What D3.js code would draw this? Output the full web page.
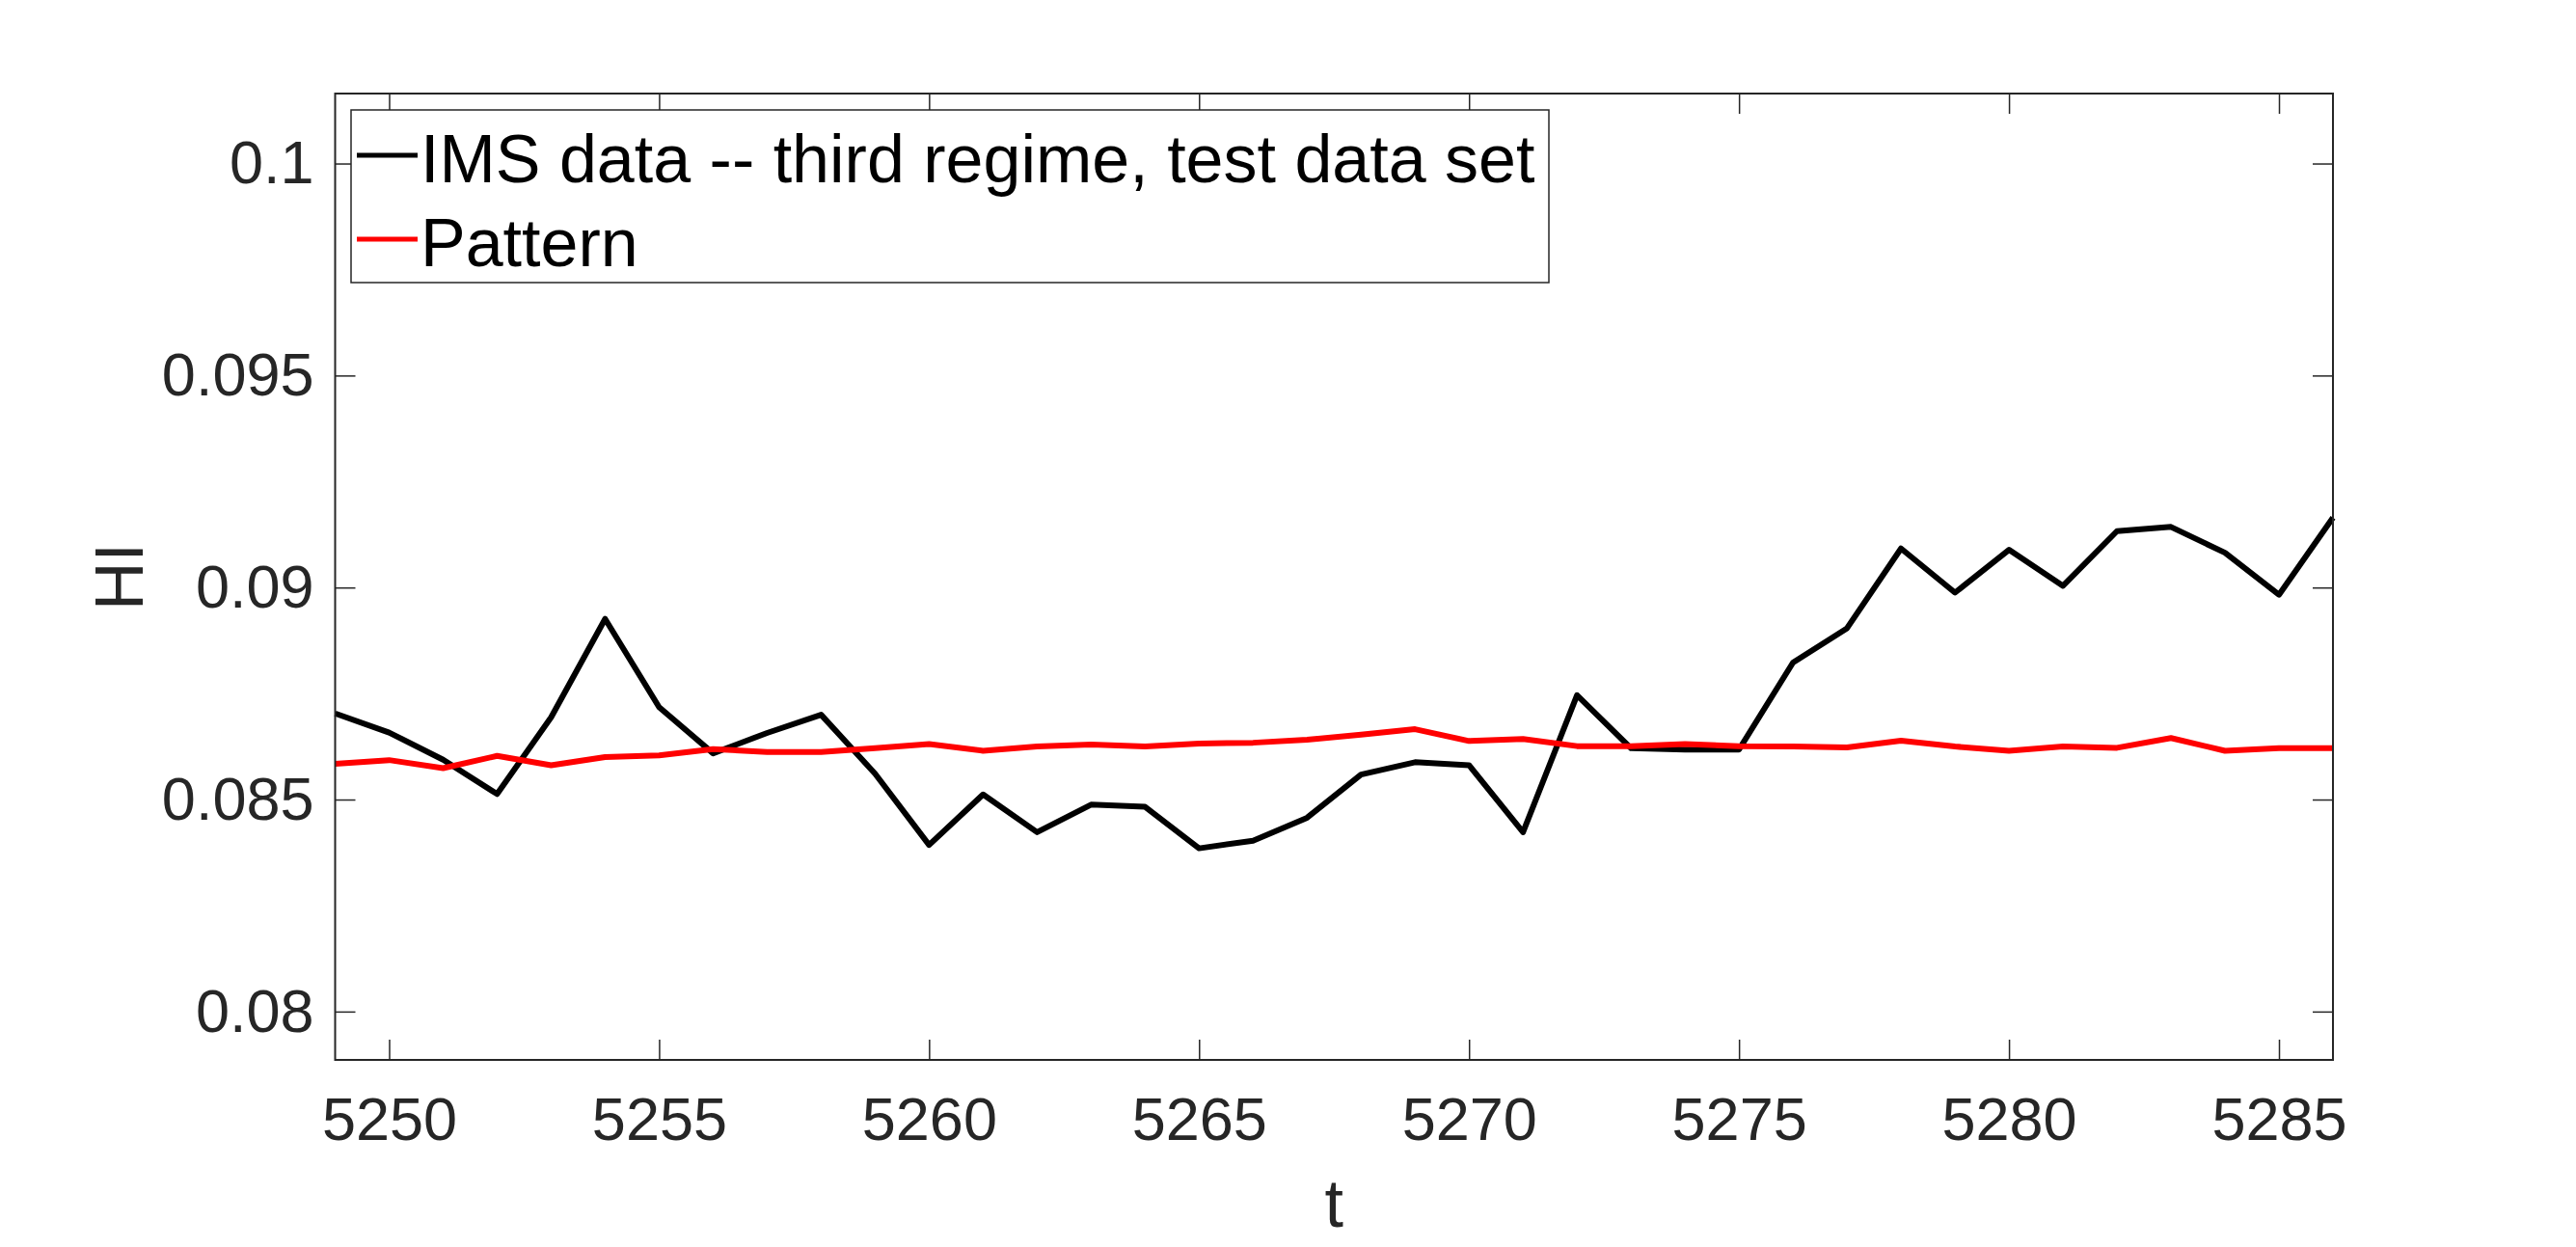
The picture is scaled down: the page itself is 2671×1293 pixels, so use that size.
<!DOCTYPE html>
<html><head><meta charset="utf-8">
<script src="https://cdn.jsdelivr.net/npm/d3@7"></script>
<style>body{margin:0;background:#fff;} svg{display:block;}</style>
</head><body>
<script>
const tValues = d3.range(5249, 5287);
const imsData = [0.08703,0.08658,0.08594,0.08513,0.08694,0.08926,0.08718,0.08609,0.08657,0.08700,0.08561,0.08393,0.08512,0.08423,0.08488,0.08483,0.08385,0.08403,0.08457,0.08559,0.08588,0.08581,0.08423,0.08746,0.08621,0.08618,0.08618,0.08823,0.08904,0.09092,0.08988,0.09089,0.09004,0.09133,0.09143,0.09082,0.08983,0.09165];
const patternData = [0.08584,0.08593,0.08574,0.08603,0.08581,0.08600,0.08604,0.08619,0.08612,0.08612,0.08621,0.08631,0.08615,0.08625,0.08630,0.08625,0.08632,0.08634,0.08641,0.08653,0.08666,0.08638,0.08643,0.08626,0.08626,0.08631,0.08626,0.08625,0.08623,0.08639,0.08625,0.08615,0.08625,0.08622,0.08645,0.08615,0.08621,0.08621];
const xTicks = [5250,5255,5260,5265,5270,5275,5280,5285];
const yTicks = [0.08,0.085,0.09,0.095,0.1];
const yTickLabels = ["0.08","0.085","0.09","0.095","0.1"];
const seriesNames = ["IMS data -- third regime, test data set","Pattern"];
const seriesColors = ["#000000","#ff0000"];

const W = 2671, H = 1293;
const m = {left:347.5, right:2419, top:97, bottom:1099};
const font = "'Liberation Sans', Arial, Helvetica, sans-serif";
const axisColor = "#262626";

const svg = d3.select("body").append("svg").attr("width",W).attr("height",H);
const x = d3.scaleLinear().domain([5249,5286]).range([m.left,m.right]);
const y = d3.scaleLinear().domain([0.07886,0.10165]).range([m.bottom,m.top]);

// lines
const line = d3.line().x((d,i)=>x(tValues[i])).y(d=>y(d));
const g = svg.append("g");
g.append("path").datum(imsData).attr("d",line).attr("fill","none").attr("stroke",seriesColors[0]).attr("stroke-width",6).attr("stroke-linejoin","round");
g.append("path").datum(patternData).attr("d",line).attr("fill","none").attr("stroke",seriesColors[1]).attr("stroke-width",6).attr("stroke-linejoin","round");

// axes
const tl = 21;
const xAxisB = d3.axisBottom(x).tickValues(xTicks).tickSize(-tl).tickPadding(38).tickFormat(d3.format("d"));
const xAxisT = d3.axisTop(x).tickValues(xTicks).tickSize(-tl).tickFormat("");
const yAxisL = d3.axisLeft(y).tickValues(yTicks).tickSize(-tl).tickPadding(22).tickFormat((d,i)=>yTickLabels[i]);
const yAxisR = d3.axisRight(y).tickValues(yTicks).tickSize(-tl).tickFormat("");

function style(sel){
  sel.select(".domain").remove();
  sel.selectAll("line").attr("stroke",axisColor).attr("stroke-width",1.5);
  sel.selectAll("text").attr("fill",axisColor).style("font-family",font).style("font-size","63px");
}
svg.append("g").attr("transform",`translate(0,${m.bottom})`).call(xAxisB).call(style);
svg.append("g").attr("transform",`translate(0,${m.top})`).call(xAxisT).call(style);
svg.append("g").attr("transform",`translate(${m.left},0)`).call(yAxisL).call(style);
svg.append("g").attr("transform",`translate(${m.right},0)`).call(yAxisR).call(style);

// frame
svg.append("rect").attr("x",m.left).attr("y",m.top).attr("width",m.right-m.left).attr("height",m.bottom-m.top)
  .attr("fill","none").attr("stroke",axisColor).attr("stroke-width",2);

// axis labels
svg.append("text").attr("x",(m.left+m.right)/2).attr("y",1272).attr("text-anchor","middle")
  .attr("fill",axisColor).style("font-family",font).style("font-size","70px").text("t");
svg.append("text").attr("transform",`translate(148,${(m.top+m.bottom)/2}) rotate(-90)`).attr("text-anchor","middle")
  .attr("fill",axisColor).style("font-family",font).style("font-size","70px").text("HI");

// legend
const lg = svg.append("g");
lg.append("rect").attr("x",364).attr("y",114).attr("width",1242).attr("height",179)
  .attr("fill","#fff").attr("stroke",axisColor).attr("stroke-width",1.5);
const rowsY = [161, 248];
const rowsBase = [189, 276];
seriesNames.forEach((nm,i)=>{
  lg.append("line").attr("x1",370).attr("x2",433).attr("y1",rowsY[i]).attr("y2",rowsY[i])
    .attr("stroke",seriesColors[i]).attr("stroke-width",5);
  lg.append("text").attr("x",436).attr("y",rowsBase[i])
    .attr("fill","#000").style("font-family",font).style("font-size","70px").text(nm);
});
</script>
</body></html>
